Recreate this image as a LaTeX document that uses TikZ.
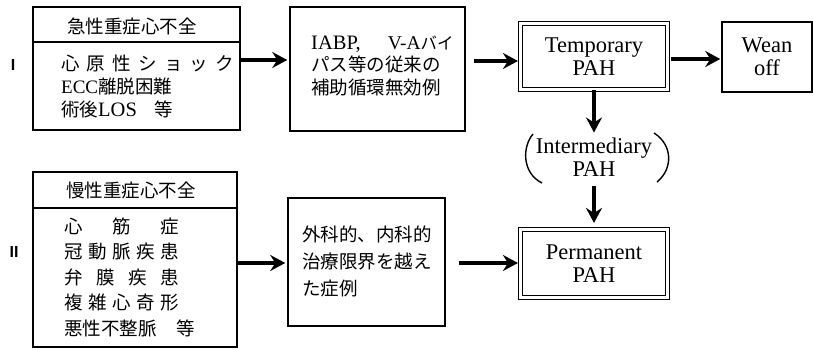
\documentclass[tikz,border=0pt]{standalone}
\usepackage{fontspec}
\setmainfont{Liberation Serif}
\setsansfont{Liberation Sans}
\newfontfamily\jp{Noto Sans CJK JP}
\usetikzlibrary{arrows.meta}
\newcommand\lt[2][20]{{\rmfamily\fontsize{#1}{23}\selectfont #2}}
\begin{document}
\begin{tikzpicture}[x=1pt,y=-1pt,
  box/.style={draw,line width=1.5pt,inner sep=0pt},
  dbox/.style={draw,line width=1.1pt,double,double distance=2.4pt,inner sep=0pt,
    font=\fontsize{22.5}{23}\selectfont,align=center},
  arr/.style={line width=3.6pt,-{Stealth[length=15pt,width=16pt,inset=5pt]}},
  jt/.style={font=\jp\fontsize{18.5}{23}\selectfont,inner sep=0pt},
  en/.style={font=\fontsize{22.5}{23}\selectfont,inner sep=0pt,align=center},
  lab/.style={font=\sffamily\bfseries\fontsize{16}{16}\selectfont,inner sep=0pt}]
\useasboundingbox (0,0) rectangle (813,350);

% ---- row I ----
\node[lab] (l1) at (13,65) {I};
\node[box,minimum width=207pt,minimum height=123pt] (b1) at (136.5,68.5) {};
\draw[line width=1.5pt] (b1.west |- 0,42) -- (b1.east |- 0,42);
\node[jt] (h1) at (132,26) {急性重症心不全};
\node[jt,anchor=west,align=left,font=\jp\fontsize{18.5}{23}\selectfont] (t1) at (61,86)
  {\makebox[173pt][s]{心\hfill 原\hfill 性\hfill シ\hfill ョ\hfill ッ\hfill ク}\\
   \lt[19]{ECC}離脱困難\\
   術後\lt[20.5]{LOS}\hspace{18pt}等};

\node[box,minimum width=175pt,minimum height=124pt] (b2) at (377.5,69) {};
\node[jt,anchor=west,align=left,font=\jp\fontsize{18.5}{22.5}\selectfont] (t2) at (311,66)
  {\lt[20.5]{IABP,}\hspace{27pt}\lt[19.5]{V-A}{\fontsize{16.5}{22}\selectfont バイ}\\
   パス等の従来の\\
   補助循環無効例};

\node[dbox,minimum width=147pt,minimum height=66pt] (tp) at (594,56.5) {Temporary\\PAH};
\node[box,minimum width=90pt,minimum height=70pt,en] (wo) at (767,57) {Wean\\off};

\draw[arr] (b1.east |- 0,60) -- ([xshift=-2pt]b2.west |- 0,60);
\draw[arr] ([xshift=8pt]b2.east |- 0,61) -- ([xshift=-2pt]tp.west |- 0,61);
\draw[arr] ([xshift=3pt]tp.east |- 0,59) -- ([xshift=-1pt]wo.west |- 0,59);

% ---- intermediary ----
\node[en] (im) at (594,157) {Intermediary\\PAH};
\draw[line width=1.4pt] ([shift={(-61,-23)}]im.center) .. controls ([shift={(-72,-10)}]im.center) and ([shift={(-72,16)}]im.center) .. ([shift={(-52,26)}]im.center);
\draw[line width=1.4pt] ([shift={(60,-24)}]im.center) .. controls ([shift={(79,-12)}]im.center) and ([shift={(79,12)}]im.center) .. ([shift={(63,25)}]im.center);

\node[dbox,minimum width=147pt,minimum height=68pt] (pm) at (594,263.5) {Permanent\\PAH};

\draw[arr] (tp.south) -- ([yshift=5pt]im.north);
\draw[arr] ([yshift=-9pt]im.south) -- ([yshift=6pt]pm.north);

% ---- row II ----
\node[lab] (l2) at (14,252) {II};
\node[box,minimum width=204pt,minimum height=175pt] (b3) at (135,259.5) {};
\draw[line width=1.5pt] (b3.west |- 0,208) -- (b3.east |- 0,208);
\node[jt] (h3) at (131,190) {慢性重症心不全};
\node[jt,anchor=west,align=left,font=\jp\fontsize{18.5}{25.5}\selectfont] (t3) at (64,277)
  {\makebox[115pt][s]{心\hfill 筋\hfill 症}\\
   \makebox[115pt][s]{冠\hfill 動\hfill 脈\hfill 疾\hfill 患}\\
   \makebox[115pt][s]{弁\hfill 膜\hfill 疾\hfill 患}\\
   \makebox[115pt][s]{複\hfill 雑\hfill 心\hfill 奇\hfill 形}\\
   悪性不整脈\hspace{20pt}等};

\node[box,minimum width=157pt,minimum height=128pt] (b4) at (366.5,262) {};
\node[jt,anchor=west,align=left,font=\jp\fontsize{18.5}{27}\selectfont] (t4) at (302,261)
  {外科的、内科的\\治療限界を越え\\た症例};

\draw[arr] (b3.east |- 0,263) -- ([xshift=-2pt]b4.west |- 0,263);
\draw[arr] ([xshift=13pt]b4.east |- 0,263) -- ([xshift=-2pt]pm.west |- 0,263);
\end{tikzpicture}
\end{document}
